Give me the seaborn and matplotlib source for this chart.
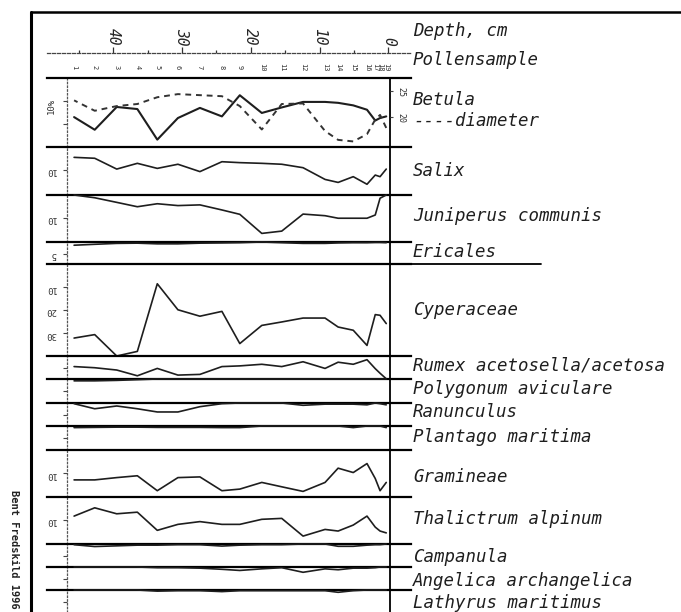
import numpy as np
import pandas as pd
import matplotlib
matplotlib.use("Agg")
import matplotlib.pyplot as plt
import matplotlib.transforms as mtransforms
from matplotlib.lines import Line2D
import seaborn as sns

# ---------------- data ----------------
samples = list(range(1, 20))
depth_cm = [45.7, 42.7, 39.5, 36.5, 33.6, 30.6, 27.4, 24.2, 21.6, 18.4,
            15.5, 12.4, 9.2, 7.3, 5.1, 3.1, 1.9, 1.2, 0.3]
depth_ticks = [40, 30, 20, 10, 0]
depth_minor = [45, 35, 25, 15, 5]

betula = [17.0, 22.5, 12.6, 13.5, 26.8, 17.4, 13.0, 16.7, 7.5, 15.2,
          12.8, 10.4, 10.4, 10.8, 11.9, 13.8, 18.5, 17.4, 16.7]
betula_diameter = [23.2, 21.2, 22.1, 22.5, 23.8, 24.4, 24.2, 24.0, 22.1, 17.6,
                   22.5, 22.6, 17.3, 15.6, 15.3, 16.7, 19.5, 20.4, 17.9]
salix = [4.5, 4.9, 9.6, 7.1, 9.3, 7.5, 10.7, 6.4, 6.8, 7.1,
         7.5, 9.0, 14.1, 15.4, 12.9, 16.2, 12.2, 12.9, 9.6]
juniperus = [0.0, 1.2, 3.2, 5.1, 3.8, 4.6, 4.3, 6.5, 8.4, 16.7,
             15.7, 8.3, 9.0, 10.1, 10.1, 10.1, 8.7, 1.4, 0.0]
ericales = [1.4, 1.0, 0.6, 0.5, 0.8, 0.8, 0.5, 0.4, 0.3, 0.0,
            0.3, 0.6, 0.6, 0.4, 0.3, 0.3, 0.2, 0.2, 0.3]
cyperaceae = [32.2, 30.7, 40.0, 38.0, 8.6, 19.9, 22.7, 20.6, 34.6, 26.7,
              25.2, 23.5, 23.5, 27.4, 28.8, 35.4, 22.0, 22.3, 25.9]
rumex = [4.6, 5.1, 6.1, 8.6, 5.4, 8.3, 8.0, 4.6, 4.3, 3.6,
         4.6, 2.5, 5.4, 2.7, 3.6, 1.6, 5.5, 7.5, 9.9]
polygonum = [0.8, 0.8, 0.6, 0.3, 0.0, 0.0, 0.0, 0.0, 0.0, 0.0,
             0.0, 0.0, 0.0, 0.0, 0.0, 0.0, 0.0, 0.0, 0.0]
ranunculus = [0.3, 2.5, 1.3, 2.5, 3.9, 3.9, 1.6, 0.3, 0.0, 0.0,
              0.0, 1.0, 0.5, 0.5, 0.5, 0.8, 0.0, 0.3, 0.8]
plantago = [0.7, 0.6, 0.5, 0.5, 0.6, 0.6, 0.6, 0.7, 0.7, 0.0,
            0.0, 0.0, 0.0, 0.0, 0.7, 0.0, 0.0, 0.0, 0.7]
gramineae = [13.0, 13.0, 12.0, 11.2, 17.7, 12.0, 11.7, 17.7, 17.0, 14.1,
             16.0, 18.0, 14.1, 7.9, 9.8, 5.9, 12.4, 17.7, 14.1]
thalictrum = [8.3, 4.7, 7.3, 6.6, 14.5, 11.9, 10.7, 11.9, 11.9, 9.7,
              9.3, 17.0, 14.1, 14.8, 12.2, 8.3, 13.1, 14.8, 15.6]
campanula = [0.3, 1.1, 0.8, 0.5, 0.5, 0.3, 0.3, 0.9, 0.5, 0.3,
             0.3, 0.0, 0.0, 1.0, 1.0, 0.5, 0.3, 0.3, 0.0]
angelica = [0.0, 0.0, 0.0, 0.0, 0.3, 0.3, 0.5, 1.0, 1.5, 0.8,
            0.3, 2.3, 0.8, 1.2, 0.5, 0.5, 0.3, 0.0, 0.0]
lathyrus = [0.0, 0.0, 0.0, 0.0, 0.5, 0.3, 0.3, 0.7, 0.3, 0.3,
            0.3, 0.3, 0.3, 1.0, 0.3, 0.0, 0.0, 0.0, 0.0]

taxa = ["Betula", "Salix", "Juniperus communis", "Ericales", "Cyperaceae",
        "Rumex acetosella/acetosa", "Polygonum aviculare", "Ranunculus",
        "Plantago maritima", "Gramineae", "Thalictrum alpinum", "Campanula",
        "Angelica archangelica", "Lathyrus maritimus"]
series = [betula, salix, juniperus, ericales, cyperaceae, rumex, polygonum,
          ranunculus, plantago, gramineae, thalictrum, campanula, angelica,
          lathyrus]
tick_values = [[10, 20], [10], [10], [5], [10, 20, 30], [5], [5], [5], [5],
               [10], [10], [5], [5], [5]]
tick_labels = [["10%", ""], ["10"], ["10"], ["5"], ["10", "20", "30"], [""],
               [""], [""], [""], ["10"], ["10"], [""], [""], [""]]
diameter_ticks = [25, 20]

# ---------------- layout ----------------
W, H = 681, 612
panel_edges = [78, 147, 195, 242, 264, 356, 379, 403, 426, 450, 497, 544,
               567, 590, 612]
label_y = [100, 171, 216, 252, 310, 366, 389, 412, 437, 477, 519, 557, 581, 603]
PX_PER_PCT = 2.3
X_LEFT, X_RIGHT = 47, 411
XLIM = (49.64, -3.30)
INK = "#1e1e1e"

sns.set_style("white")
plt.rcParams["font.family"] = ["DejaVu Sans Mono", "DejaVu Sans"]

fig = plt.figure(figsize=(W / 100, H / 100), dpi=100)
fig.patch.set_facecolor("white")


def pax(x0, y0, x1, y1):
    return fig.add_axes([x0 / W, 1 - y1 / H, (x1 - x0) / W, (y1 - y0) / H])


lbl_font = dict(family="DejaVu Sans Mono", style="oblique", fontsize=12.5,
                color=INK)

# header (depth scale and sample numbers)
hax = pax(X_LEFT, 53, X_RIGHT, 78)
hax.set_xlim(*XLIM)
hax.set_ylim(0, 1)
for s in ["left", "right", "bottom"]:
    hax.spines[s].set_visible(False)
hax.spines["top"].set(linestyle=(0, (2.5, 1.5)), linewidth=0.9, color="#444")
hax.xaxis.set_ticks_position("top")
hax.set_xticks(depth_ticks)
hax.set_xticklabels([str(d) for d in depth_ticks], rotation=-90, fontsize=10.5,
                    style="oblique")
hax.set_xticks(depth_minor, minor=True)
hax.tick_params(axis="x", which="major", top=True, direction="out", length=4,
                width=0.9, pad=1.5, color="#333")
hax.tick_params(axis="x", which="minor", top=True, direction="out", length=2,
                width=0.9, color="#333")
hax.set_yticks([])
hax.patch.set_alpha(0)
btr = mtransforms.blended_transform_factory(hax.transData, hax.transAxes)
for d, s in zip(depth_cm, samples):
    hax.text(d, 0.42, str(s), transform=btr, rotation=-90, fontsize=5,
             ha="center", va="center", color="#333")

fig.text(413 / W, 1 - 31 / H, "Depth, cm", va="center", ha="left", **lbl_font)
fig.text(413 / W, 1 - 60 / H, "Pollensample", va="center", ha="left", **lbl_font)

# pollen panels
axes = []
for i, (name, vals) in enumerate(zip(taxa, series)):
    top, bot = panel_edges[i], panel_edges[i + 1]
    ax = pax(X_LEFT, top, X_RIGHT, bot)
    ax.set_xlim(*XLIM)
    ax.set_ylim((bot - top) / PX_PER_PCT, 0)
    ax.patch.set_alpha(0)
    sns.lineplot(x=depth_cm, y=vals, ax=ax, color=INK,
                 linewidth=1.5 if i == 0 else 1.2, clip_on=False, zorder=3)
    ax.set_xlabel("")
    ax.set_ylabel("")
    ax.spines["bottom"].set_visible(False)
    ax.spines["top"].set(linewidth=1.6, color="black")
    ax.spines["left"].set_position(("data", 46.7))
    ax.spines["left"].set(linestyle=(0, (1.2, 1.8)), linewidth=0.9, color="#555")
    ax.spines["right"].set_position(("data", -0.29))
    ax.spines["right"].set(linewidth=1.3, color="black")
    ax.set_xticks([])
    ax.set_yticks(tick_values[i])
    ax.set_yticklabels(tick_labels[i], rotation=90 if i == 0 else 180,
                       fontsize=6.5, color="#333")
    ax.tick_params(axis="y", left=True, direction="out", length=3, width=0.8,
                   pad=5, color="#444")
    fig.text(413 / W, 1 - label_y[i] / H, name, va="center", ha="left",
             **lbl_font)
    axes.append(ax)

# Betula grain diameter on a second scale
ax_b = axes[0]
top, bot = panel_edges[0], panel_edges[1]
dax = ax_b.twinx()
dax.set_position(ax_b.get_position())
dax.set_ylim(25 - (bot - 91) / 5.2, 25 + (91 - top) / 5.2)
sns.lineplot(x=depth_cm, y=betula_diameter, ax=dax, color="#333",
             linewidth=1.4, linestyle=(0, (3, 2.5)), zorder=2)
dax.set_xlabel("")
dax.set_ylabel("")
for s in ["left", "top", "bottom"]:
    dax.spines[s].set_visible(False)
dax.spines["right"].set_position(("data", -0.29))
dax.spines["right"].set_visible(False)
dax.set_yticks(diameter_ticks)
dax.set_yticklabels([str(t) for t in diameter_ticks], rotation=-90,
                    fontsize=6, color="#333")
dax.tick_params(axis="y", right=True, direction="out", length=2.5, width=0.8,
                pad=2, color="#444")
dax.patch.set_alpha(0)
fig.text(413 / W, 1 - 121 / H, "----diameter", va="center", ha="left",
         **lbl_font)

# frame and extra rules
fig.add_artist(Line2D([31 / W, 31 / W], [0, 1 - 12 / H], lw=2.2, color="black"))
fig.add_artist(Line2D([31 / W, 1.0], [1 - 12 / H, 1 - 12 / H], lw=1.8,
                      color="black"))
fig.add_artist(Line2D([X_RIGHT / W, 541 / W], [1 - 264 / H, 1 - 264 / H],
                      lw=1.3, color="black"))

fig.text(14 / W, 1 - 490 / H, "Bent Fredskild 1996", rotation=-90,
         fontsize=7.5, fontweight="bold", family="DejaVu Sans Mono",
         ha="center", va="top", color="#222")

fig.savefig("out.png", dpi=100, facecolor="white")
